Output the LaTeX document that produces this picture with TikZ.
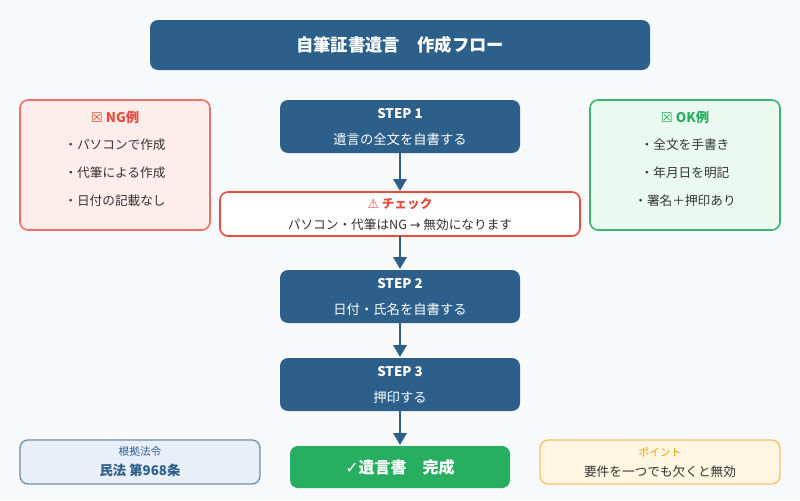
\documentclass[tikz,border=0pt]{standalone}
\usepackage{fontspec}
\setmainfont{Noto Sans CJK JP}
\newfontfamily\sym{DejaVu Sans}
\usetikzlibrary{arrows.meta}
\definecolor{navy}{HTML}{2C5F8A}
\definecolor{ngred}{HTML}{E74C3C}
\definecolor{ngfill}{HTML}{FDEDEB}
\definecolor{okgreen}{HTML}{3CB371}
\definecolor{okfill}{HTML}{EBFAF0}
\definecolor{done}{HTML}{27AE60}
\definecolor{lawfill}{HTML}{E8EFF7}
\definecolor{lawbd}{HTML}{6F8FB0}
\definecolor{ptfill}{HTML}{FEF6E0}
\definecolor{ptbd}{HTML}{F5C16C}
\definecolor{ptorange}{HTML}{F39C12}
\definecolor{bg}{HTML}{F7F9FB}
\definecolor{txt}{HTML}{333333}
\begin{document}
\begin{tikzpicture}[x=0.75pt,y=-0.75pt,
  box/.style={draw, rounded corners=6pt, line width=1.2pt},
  step/.style={fill=navy, rounded corners=6pt, text=white, align=center},
  arr/.style={navy, line width=1.6pt, -{Triangle[length=9pt,width=10pt]}}]
\fill[bg] (0,0) rectangle (800,500);
\useasboundingbox (0,0) rectangle (800,500);
% title
\fill[navy, rounded corners=6pt] (150,20) rectangle (650,70);
\node[text=white, font=\bfseries\fontsize{13}{15}\selectfont] (title) at (400,45) {自筆証書遺言\quad 作成フロー};
% NG
\draw[box, draw=ngred!80, fill=ngfill] (20,100) rectangle (210,230);
\node[text=ngred, font=\bfseries\fontsize{10}{12}\selectfont] (ngh) at (115,117) {{\sym ☒} NG例};
\node[text=txt, font=\fontsize{9.5}{12}\selectfont] (ng1) at (115,145) {・パソコンで作成};
\node[text=txt, font=\fontsize{9.5}{12}\selectfont] (ng2) at (115,173) {・代筆による作成};
\node[text=txt, font=\fontsize{9.5}{12}\selectfont] (ng3) at (115,201) {・日付の記載なし};
% OK
\draw[box, draw=okgreen, fill=okfill] (590,100) rectangle (780,230);
\node[text=done, font=\bfseries\fontsize{10}{12}\selectfont] (okh) at (685,117) {{\sym ☒} OK例};
\node[text=txt, font=\fontsize{9.5}{12}\selectfont] (ok1) at (685,145) {・全文を手書き};
\node[text=txt, font=\fontsize{9.5}{12}\selectfont] (ok2) at (685,173) {・年月日を明記};
\node[text=txt, font=\fontsize{9.5}{12}\selectfont] (ok3) at (685,201) {・署名＋押印あり};
% steps
\fill[navy, rounded corners=6pt] (280,100) rectangle (520,153);
\node[text=white, align=center, font=\fontsize{10}{19}\selectfont] (s1) at (400,127) {\textbf{STEP 1}\\遺言の全文を自書する};
\draw[box, draw=ngred, fill=white] (220,192) rectangle (580,236);
\node[align=center, font=\fontsize{9.5}{16}\selectfont, text=txt] (chk) at (400,214) {\textcolor{ngred}{\textbf{{\sym ⚠} チェック}}\\パソコン・代筆はNG {\sym →} 無効になります};
\fill[navy, rounded corners=6pt] (280,270) rectangle (520,323);
\node[text=white, align=center, font=\fontsize{10}{19}\selectfont] (s2) at (400,297) {\textbf{STEP 2}\\日付・氏名を自書する};
\fill[navy, rounded corners=6pt] (280,358) rectangle (520,411);
\node[text=white, align=center, font=\fontsize{10}{19}\selectfont] (s3) at (400,385) {\textbf{STEP 3}\\押印する};
\fill[done, rounded corners=6pt] (290,446) rectangle (510,488);
\node[text=white, font=\bfseries\fontsize{12}{14}\selectfont] (fin) at (400,467) {{\sym ✓}遺言書\quad 完成};
% bottom boxes
\draw[box, line width=1pt, draw=lawbd, fill=lawfill] (20,440) rectangle (260,484);
\node[align=center, text=navy, font=\fontsize{8}{15}\selectfont] (law) at (140,462) {根拠法令\\{\fontsize{10}{15}\selectfont\bfseries 民法 第968条}};
\draw[box, line width=1pt, draw=ptbd, fill=ptfill] (540,440) rectangle (780,484);
\node[align=center, text=txt, font=\fontsize{9.5}{15}\selectfont] (pt) at (660,462) {\textcolor{ptorange}{\fontsize{8}{15}\selectfont ポイント}\\要件を一つでも欠くと無効};
% arrows
\coordinate (a1) at (400,153); \coordinate (b1) at (400,191);
\coordinate (a2) at (400,236); \coordinate (b2) at (400,269);
\coordinate (a3) at (400,323); \coordinate (b3) at (400,357);
\coordinate (a4) at (400,411); \coordinate (b4) at (400,445);
\draw[arr] (a1) -- (b1);
\draw[arr] (a2) -- (b2);
\draw[arr] (a3) -- (b3);
\draw[arr] (a4) -- (b4);
\end{tikzpicture}
\end{document}
